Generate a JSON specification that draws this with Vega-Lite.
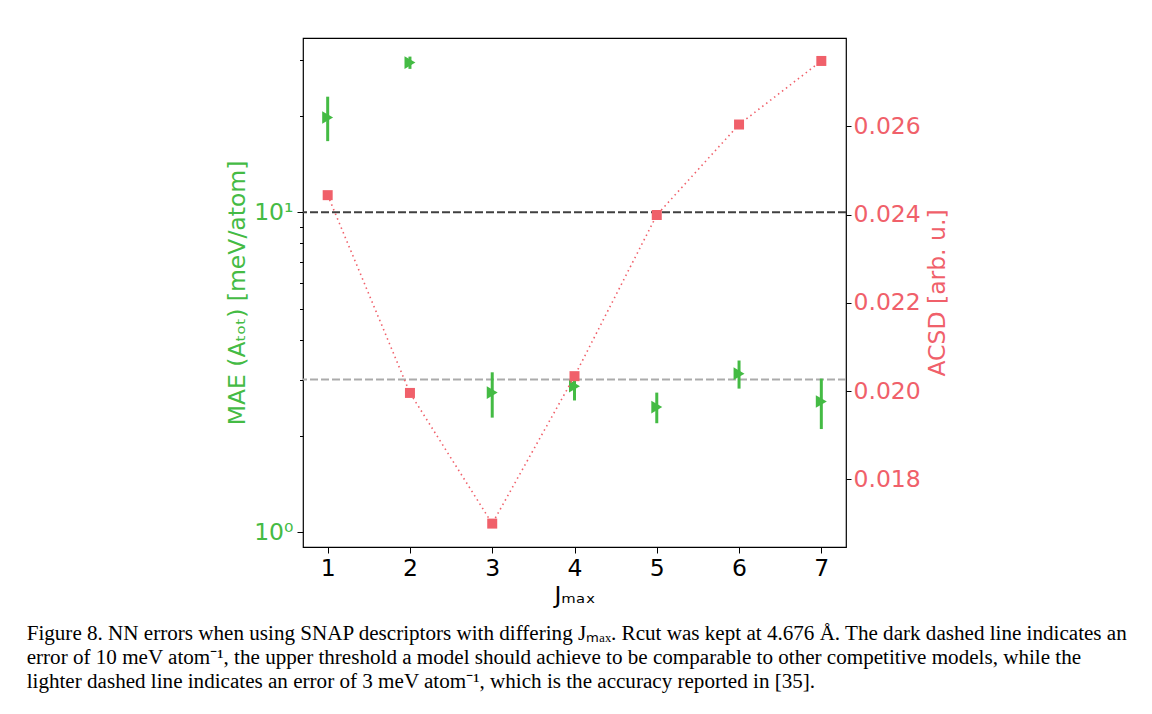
{
  "$schema": "https://vega.github.io/schema/vega-lite/v6.json",
  "width": 543,
  "height": 509,
  "padding": {"left": 26, "top": 38, "right": 5, "bottom": 5},
  "background": "white",
  "config": {
    "view": {"stroke": "black", "strokeWidth": 1.2},
    "font": "DejaVu Sans",
    "axis": {"grid": false, "domain": false, "tickColor": "black", "labelFont": "DejaVu Sans", "titleFont": "DejaVu Sans", "titleFontWeight": "normal", "labelFontSize": 23.5, "titleFontSize": 23.5}
  },
  "title": {
    "text": [
      "Figure 8. NN errors when using SNAP descriptors with differing Jₘₐₓ. Rcut was kept at 4.676 Å. The dark dashed line indicates an",
      "error of 10 meV atom⁻¹, the upper threshold a model should achieve to be comparable to other competitive models, while the",
      "lighter dashed line indicates an error of 3 meV atom⁻¹, which is the accuracy reported in [35]."
    ],
    "orient": "bottom",
    "anchor": "start",
    "frame": "bounds",
    "font": "Liberation Serif",
    "fontSize": 21.1,
    "fontWeight": "normal",
    "lineHeight": 24,
    "color": "black",
    "offset": 16,
    "dx": -199
  },
  "datasets": {
    "mae": [
      {"j": 1, "mae": 19.8, "lo": 16.7, "hi": 23.0},
      {"j": 2, "mae": 29.4, "lo": 28.1, "hi": 30.7},
      {"j": 3, "mae": 2.73, "lo": 2.28, "hi": 3.16},
      {"j": 4, "mae": 2.86, "lo": 2.58, "hi": 3.15},
      {"j": 5, "mae": 2.46, "lo": 2.19, "hi": 2.73},
      {"j": 6, "mae": 3.13, "lo": 2.81, "hi": 3.44},
      {"j": 7, "mae": 2.56, "lo": 2.10, "hi": 3.02}
    ],
    "acsd": [
      {"j": 1, "acsd": 0.02444},
      {"j": 2, "acsd": 0.01996},
      {"j": 3, "acsd": 0.01700},
      {"j": 4, "acsd": 0.02034},
      {"j": 5, "acsd": 0.02399},
      {"j": 6, "acsd": 0.02604},
      {"j": 7, "acsd": 0.02748}
    ],
    "thr": [
      {"level": 10, "kind": "dark"},
      {"level": 3, "kind": "light"}
    ]
  },
  "encoding": {
    "x": {
      "field": "j", "type": "quantitative",
      "scale": {"domain": [0.7, 7.3], "nice": false, "zero": false},
      "axis": {"values": [1, 2, 3, 4, 5, 6, 7], "title": "Jₘₐₓ", "labelColor": "black", "titleColor": "black", "tickSize": 6, "labelPadding": 3, "titlePadding": 4}
    }
  },
  "layer": [
    {
      "layer": [
        {
          "data": {"name": "thr"},
          "mark": {"type": "rule", "strokeWidth": 2, "strokeDash": [8, 3]},
          "encoding": {
            "x": null,
            "y": {"field": "level", "type": "quantitative"},
            "color": {"field": "kind", "type": "nominal", "scale": {"domain": ["dark", "light"], "range": ["#404040", "#ababab"]}, "legend": null}
          }
        },
        {
          "data": {"name": "mae"},
          "mark": {"type": "rule", "strokeWidth": 3, "color": "#44bb44"},
          "encoding": {
            "y": {"field": "lo", "type": "quantitative"},
            "y2": {"field": "hi"}
          }
        },
        {
          "data": {"name": "mae"},
          "mark": {"type": "point", "shape": "triangle-right", "filled": true, "opacity": 1, "size": 160, "color": "#44bb44"},
          "encoding": {
            "y": {
              "field": "mae", "type": "quantitative",
              "scale": {"type": "log", "domain": [0.898, 35.1], "nice": false},
              "axis": {
                "orient": "left",
                "title": "MAE (Aₜₒₜ) [meV/atom]",
                "titleColor": "#44bb44",
                "labelColor": "#44bb44",
                "values": [1, 2, 3, 4, 5, 6, 7, 8, 9, 10, 20, 30],
                "labelExpr": "datum.value == 1 ? '10⁰' : (datum.value == 10 ? '10¹' : '')",
                "tickSize": {"condition": {"test": "datum.value == 1 || datum.value == 10", "value": 6}, "value": 3.5},
                "labelPadding": 4,
                "titlePadding": 4
              }
            }
          }
        }
      ]
    },
    {
      "data": {"name": "acsd"},
      "layer": [
        {
          "mark": {"type": "line", "color": "#f0606a", "strokeWidth": 1.6, "strokeDash": [1.5, 3.5]},
          "encoding": {
            "y": {
              "field": "acsd", "type": "quantitative",
              "scale": {"domain": [0.01647, 0.0280], "nice": false, "zero": false},
              "axis": {
                "orient": "right",
                "title": "ACSD [arb. u.]",
                "titleAngle": 270,
                "titleBaseline": "top",
                "titleColor": "#f0606a",
                "labelColor": "#f0606a",
                "values": [0.018, 0.020, 0.022, 0.024, 0.026],
                "format": ".3f",
                "tickSize": 5,
                "labelPadding": 2,
                "titlePadding": 5
              }
            }
          }
        },
        {
          "mark": {"type": "square", "filled": true, "opacity": 1, "size": 100, "color": "#f0606a"},
          "encoding": {
            "y": {"field": "acsd", "type": "quantitative"}
          }
        }
      ]
    }
  ],
  "resolve": {"scale": {"y": "independent", "color": "independent"}}
}
